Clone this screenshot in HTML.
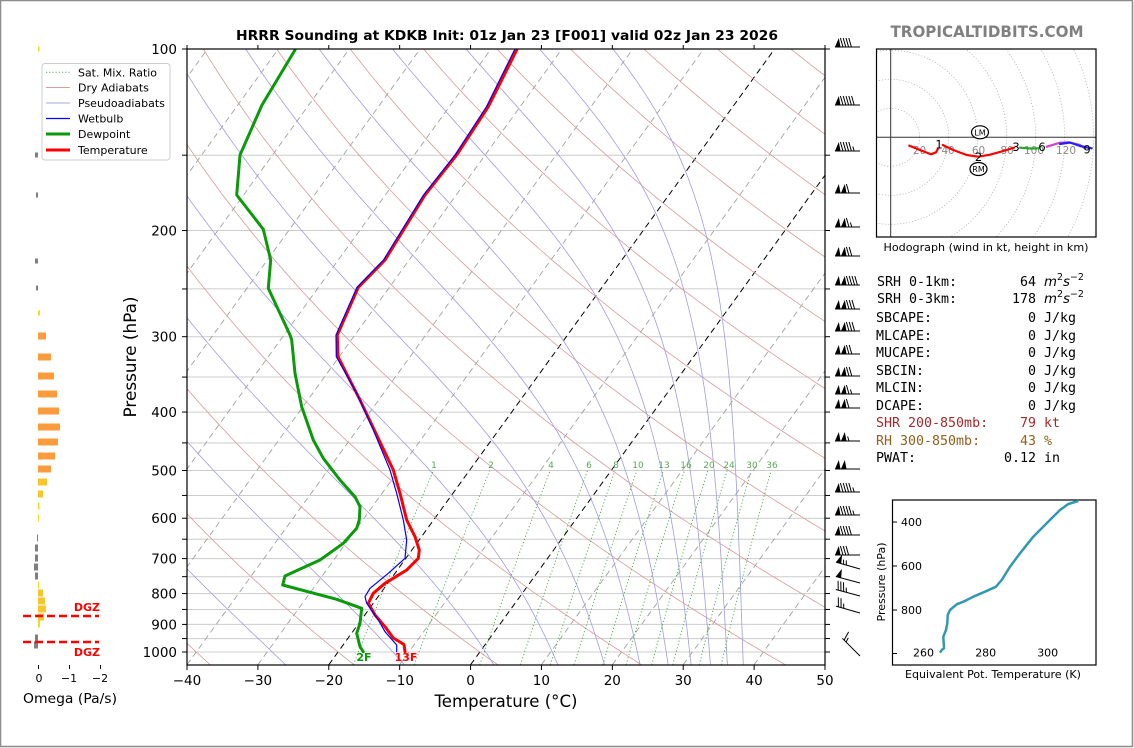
<!DOCTYPE html>
<html><head><meta charset="utf-8"><style>
html,body{margin:0;padding:0;background:#fff;}
svg{display:block;font-family:"DejaVu Sans","Liberation Sans",sans-serif;}
.mono{font-family:"DejaVu Sans Mono","Liberation Mono",monospace;font-size:13.3px;}
</style></head><body>
<svg id="s" xmlns="http://www.w3.org/2000/svg" width="1134" height="748" viewBox="0 0 1134 748">
<defs>
<clipPath id="cm"><rect x="187" y="49" width="638" height="616"/></clipPath>
<clipPath id="ch"><rect x="876" y="49" width="220" height="188"/></clipPath>
</defs>
<rect x="0" y="0" width="1134" height="748" fill="#fff"/>
<rect x="0.5" y="0.5" width="1132" height="746" fill="none" stroke="#8c8c8c" stroke-width="1.5"/>

<!-- title -->
<text x="507" y="40" font-size="13" font-weight="bold" text-anchor="middle" textLength="542" lengthAdjust="spacingAndGlyphs">HRRR Sounding at KDKB Init: 01z Jan 23 [F001] valid 02z Jan 23 2026</text>
<text x="987" y="37" font-size="16" font-weight="bold" fill="#808080" text-anchor="middle" textLength="193" lengthAdjust="spacingAndGlyphs">TROPICALTIDBITS.COM</text>

<!-- main plot background grid -->
<g id="hgrid" stroke="#cccccc" stroke-width="1">
<line x1="187" x2="825" y1="155.2" y2="155.2"/>
<line x1="187" x2="825" y1="230.5" y2="230.5"/>
<line x1="187" x2="825" y1="288.9" y2="288.9"/>
<line x1="187" x2="825" y1="336.7" y2="336.7"/>
<line x1="187" x2="825" y1="377.0" y2="377.0"/>
<line x1="187" x2="825" y1="412.1" y2="412.1"/>
<line x1="187" x2="825" y1="443.0" y2="443.0"/>
<line x1="187" x2="825" y1="470.5" y2="470.5"/>
<line x1="187" x2="825" y1="495.5" y2="495.5"/>
<line x1="187" x2="825" y1="518.2" y2="518.2"/>
<line x1="187" x2="825" y1="539.2" y2="539.2"/>
<line x1="187" x2="825" y1="558.6" y2="558.6"/>
<line x1="187" x2="825" y1="576.7" y2="576.7"/>
<line x1="187" x2="825" y1="593.6" y2="593.6"/>
<line x1="187" x2="825" y1="609.5" y2="609.5"/>
<line x1="187" x2="825" y1="624.4" y2="624.4"/>
<line x1="187" x2="825" y1="638.6" y2="638.6"/>
<line x1="187" x2="825" y1="652.0" y2="652.0"/>
</g>
<g id="bg" clip-path="url(#cm)"></g>

<!-- mixing ratio labels -->
<g font-size="9" fill="#55aa55" text-anchor="middle">
<text x="434" y="468">1</text><text x="491" y="468">2</text><text x="551" y="468">4</text>
<text x="589" y="468">6</text><text x="616" y="468">8</text><text x="638" y="468">10</text>
<text x="664" y="468">13</text><text x="686" y="468">16</text><text x="709" y="468">20</text>
<text x="729" y="468">24</text><text x="752" y="468">30</text><text x="772" y="468">36</text>
</g>

<!-- data curves -->
<g clip-path="url(#cm)" fill="none" stroke-linejoin="round" stroke-linecap="round">
<polyline stroke="#ff0000" stroke-width="3" points="516.7,50 488.3,106.7 456.7,155 425,195 385,260 358.3,287.3 337.3,335 338,356.7 360,400 376.7,435 393.3,470 400,493.3 406.7,520 415,536.7 419.3,550 418.3,558.3 406.7,570 385,583.3 373.3,593.3 368.3,603.3 375,615 385,626.7 393.3,638 404,644.5 405,651.7"/>
<polyline stroke="#0a9a0a" stroke-width="3" points="295,50 262,105 240,155 236.7,195 263.3,229.3 270.7,260 268.3,288.3 290,335 291.7,340 295,373.3 301.7,406.7 313.3,440 323.3,458.3 340,480 355,496.7 360,506.7 359.3,520 356.7,528.3 343.3,543.3 320,560 285,576 282.7,585 336.7,599.3 361.7,608.3 360,623.3 356.7,633.3 360,646.7 363.3,651.7"/>
<polyline stroke="#0000ff" stroke-width="1.2" points="514.5,50 486.5,106.7 455,155 423.5,195 383.5,260 357,287.3 336,335 336.3,356.7 356.7,393.3 373.3,430 390,470 396.7,493.3 403.3,520 406.7,540 405,558.3 388.3,573.3 370,588.3 365,596.7 366.7,603.3 378.3,620 385,631.7 396.7,645 396.7,651.7"/>
</g>
<text x="364" y="661" font-size="11" font-weight="bold" fill="#0a9a0a" text-anchor="middle">2F</text>
<text x="406" y="661" font-size="11" font-weight="bold" fill="#ff0000" text-anchor="middle">13F</text>

<!-- axes frame -->
<rect x="187" y="49" width="638" height="616" fill="none" stroke="#000" stroke-width="1.2"/>
<g id="ticks" stroke="#000" stroke-width="1"></g>

<!-- y tick labels -->
<g font-size="13.5" text-anchor="end">
<text x="177" y="54">100</text><text x="177" y="235.5">200</text><text x="177" y="341.7">300</text>
<text x="177" y="417.1">400</text><text x="177" y="475.5">500</text><text x="177" y="523.2">600</text>
<text x="177" y="563.6">700</text><text x="177" y="598.6">800</text><text x="177" y="629.4">900</text>
<text x="177" y="657">1000</text>
</g>
<g font-size="13.5" text-anchor="middle">
<text x="187" y="685">−40</text><text x="257.9" y="685">−30</text><text x="328.8" y="685">−20</text>
<text x="399.7" y="685">−10</text><text x="470.6" y="685">0</text><text x="541.4" y="685">10</text>
<text x="612.3" y="685">20</text><text x="683.2" y="685">30</text><text x="754.1" y="685">40</text>
<text x="825" y="685">50</text>
</g>
<text x="506" y="707" font-size="16.5" text-anchor="middle" textLength="143" lengthAdjust="spacingAndGlyphs">Temperature (°C)</text>
<text transform="translate(136,357) rotate(-90)" font-size="16.5" text-anchor="middle" textLength="121" lengthAdjust="spacingAndGlyphs">Pressure (hPa)</text>

<!-- legend -->
<rect x="42" y="63.5" width="128" height="96.5" rx="3" fill="#fff" fill-opacity="0.85" stroke="#cccccc" stroke-width="1"/>
<g stroke-width="1">
<line x1="46" x2="70" y1="72.3" y2="72.3" stroke="#55aa55" stroke-dasharray="1.2,2"/>
<line x1="46" x2="70" y1="87.5" y2="87.5" stroke="#d9a0a0"/>
<line x1="46" x2="70" y1="103" y2="103" stroke="#a8a8dd"/>
<line x1="46" x2="70" y1="118.5" y2="118.5" stroke="#0000ff" stroke-width="1.3"/>
<line x1="46" x2="70" y1="134" y2="134" stroke="#0a9a0a" stroke-width="3"/>
<line x1="46" x2="70" y1="150" y2="150" stroke="#ff0000" stroke-width="3"/>
</g>
<g font-size="11">
<text x="78" y="76.3" textLength="79" lengthAdjust="spacingAndGlyphs">Sat. Mix. Ratio</text>
<text x="78" y="91.5">Dry Adiabats</text>
<text x="78" y="107">Pseudoadiabats</text>
<text x="78" y="122.5">Wetbulb</text>
<text x="78" y="138">Dewpoint</text>
<text x="78" y="154">Temperature</text>
</g>

<!-- omega panel -->
<g id="omega"></g>
<g stroke="#ff0000" stroke-width="2.5" stroke-dasharray="8,4">
<line x1="23" x2="99" y1="616" y2="616"/>
<line x1="23" x2="99" y1="642" y2="642"/>
</g>
<text x="100" y="611" font-size="11" font-weight="bold" fill="#ff0000" text-anchor="end">DGZ</text>
<text x="100" y="656" font-size="11" font-weight="bold" fill="#ff0000" text-anchor="end">DGZ</text>
<g stroke="#000" stroke-width="1">
<line x1="38.5" x2="38.5" y1="665" y2="669"/><line x1="69.5" x2="69.5" y1="665" y2="669"/><line x1="100.5" x2="100.5" y1="665" y2="669"/>
</g>
<g font-size="11" text-anchor="middle">
<text x="39" y="682">0</text><text x="69" y="682">−1</text><text x="100" y="682">−2</text>
</g>
<text x="70" y="703" font-size="13.5" text-anchor="middle" textLength="94" lengthAdjust="spacingAndGlyphs">Omega (Pa/s)</text>

<!-- wind barbs -->
<g id="barbs" stroke="#000" stroke-width="1" fill="#000"></g>

<!-- hodograph -->
<g clip-path="url(#ch)" fill="none" stroke="#aaaaaa" stroke-width="0.8" stroke-dasharray="1,2">
<circle cx="890.7" cy="137.3" r="29"/><circle cx="890.7" cy="137.3" r="58"/>
<circle cx="890.7" cy="137.3" r="87"/><circle cx="890.7" cy="137.3" r="116"/>
<circle cx="890.7" cy="137.3" r="145"/><circle cx="890.7" cy="137.3" r="174"/>
<circle cx="890.7" cy="137.3" r="203"/><circle cx="890.7" cy="137.3" r="232"/>
</g>
<g stroke="#333" stroke-width="1">
<line x1="890.7" x2="890.7" y1="49" y2="237"/>
<line x1="876" x2="1096" y1="137.3" y2="137.3"/>
</g>
<g font-size="10.5" fill="#8a8a8a" text-anchor="middle">
<text x="919.5" y="154">20</text><text x="948" y="154">40</text><text x="978.5" y="154">60</text>
<text x="1007" y="154">80</text><text x="1034" y="154">100</text><text x="1066" y="154">120</text>
</g>
<g fill="none" stroke-width="2.2" stroke-linejoin="round" stroke-linecap="round">
<polyline stroke="#ff0000" points="909.3,145.7 920,150 931,154.3 936,152.3 937.7,149.3"/>
<polyline stroke="#ff0000" points="942.7,145 953.3,150 966.7,155 978.3,156.7 990,154.7 1003.3,151 1014,147.7"/>
<polyline stroke="#22aa22" points="1020,147.7 1030,148.5 1038.3,148.3"/>
<polyline stroke="#cc44cc" points="1046.7,146.7 1060,142.7 1068.3,142.3 1080,145 1085,148.3"/>
<polyline stroke="#2222ff" points="1060,144 1070,142.5 1080,146 1091.7,148.3"/>
</g>
<g font-size="11.5" text-anchor="middle">
<text x="939" y="148.5">1</text><text x="978.5" y="161">2</text><text x="1016" y="151">3</text>
<text x="1042" y="151">6</text><text x="1087" y="153.5">9</text>
</g>
<g fill="#fff" stroke="#000" stroke-width="1.2">
<ellipse cx="980" cy="132.3" rx="8.5" ry="6.5"/>
<ellipse cx="978.5" cy="169" rx="8.5" ry="6.5"/>
</g>
<g font-size="8" text-anchor="middle">
<text x="980" y="135.3">LM</text><text x="978.5" y="172">RM</text>
</g>
<rect x="876.5" y="49" width="219.5" height="188" fill="none" stroke="#000" stroke-width="1.2"/>
<text x="986" y="251" font-size="11" text-anchor="middle" textLength="205" lengthAdjust="spacingAndGlyphs">Hodograph (wind in kt, height in km)</text>

<!-- text block -->
<g class="mono">
<text x="877" y="286">SRH 0-1km:</text><text x="1036" y="286" text-anchor="end">64</text>
<text x="877" y="303">SRH 0-3km:</text><text x="1036" y="303" text-anchor="end">178</text>
<text x="876" y="322">SBCAPE:</text><text x="1036" y="322" text-anchor="end">0</text><text x="1044" y="322">J/kg</text>
<text x="876" y="340">MLCAPE:</text><text x="1036" y="340" text-anchor="end">0</text><text x="1044" y="340">J/kg</text>
<text x="876" y="357">MUCAPE:</text><text x="1036" y="357" text-anchor="end">0</text><text x="1044" y="357">J/kg</text>
<text x="876" y="375">SBCIN:</text><text x="1036" y="375" text-anchor="end">0</text><text x="1044" y="375">J/kg</text>
<text x="876" y="392">MLCIN:</text><text x="1036" y="392" text-anchor="end">0</text><text x="1044" y="392">J/kg</text>
<text x="876" y="410">DCAPE:</text><text x="1036" y="410" text-anchor="end">0</text><text x="1044" y="410">J/kg</text>
<text x="876" y="427" fill="#a52a2a">SHR 200-850mb:</text><text x="1036" y="427" text-anchor="end" fill="#a52a2a">79</text><text x="1044" y="427" fill="#a52a2a">kt</text>
<text x="876" y="445" fill="#94601e">RH 300-850mb:</text><text x="1036" y="445" text-anchor="end" fill="#94601e">43</text><text x="1044" y="445" fill="#94601e">%</text>
<text x="876" y="462">PWAT:</text><text x="1036" y="462" text-anchor="end">0.12</text><text x="1044" y="462">in</text>
</g>
<g font-size="13.3">
<text x="1044" y="286"><tspan font-style="italic">m</tspan><tspan dy="-6" font-size="9.5">2</tspan><tspan dy="6" font-style="italic">s</tspan><tspan dy="-6" font-size="9.5">−2</tspan></text>
<text x="1044" y="303"><tspan font-style="italic">m</tspan><tspan dy="-6" font-size="9.5">2</tspan><tspan dy="6" font-style="italic">s</tspan><tspan dy="-6" font-size="9.5">−2</tspan></text>
</g>

<!-- theta-e inset -->
<rect x="892.5" y="500" width="203.5" height="165" fill="none" stroke="#000" stroke-width="1.2"/>
<g stroke="#000" stroke-width="1">
<line x1="892.5" x2="897" y1="522" y2="522"/><line x1="892.5" x2="897" y1="566" y2="566"/>
<line x1="892.5" x2="897" y1="610" y2="610"/><line x1="892.5" x2="897" y1="653.5" y2="653.5"/>
</g>
<g font-size="11" text-anchor="end">
<text x="922" y="526">400</text><text x="922" y="570">600</text><text x="922" y="614">800</text>
</g>
<g font-size="11" text-anchor="middle">
<text x="923.5" y="656.5">260</text><text x="985.7" y="656.5">280</text><text x="1047.7" y="656.5">300</text>
</g>
<polyline fill="none" stroke="#3399b0" stroke-width="2.5" stroke-linejoin="round" points="940,652.7 941.7,650 944,648.3 943.3,636.7 946,630 947.3,623.3 947.7,615 950,610 956.7,604.3 963.3,601.7 973.3,596.7 985,591.7 996,586.7 1001.7,580 1010,566.7 1020,553.3 1033.3,536.7 1046.7,523.3 1060,510 1068.3,504 1078.3,501"/>
<text transform="translate(885,582) rotate(-90)" font-size="11" text-anchor="middle" textLength="79" lengthAdjust="spacingAndGlyphs">Pressure (hPa)</text>
<text x="993" y="678" font-size="11" text-anchor="middle" textLength="176" lengthAdjust="spacingAndGlyphs">Equivalent Pot. Temperature (K)</text>
</svg>
<script>
(function(){
var NS='http://www.w3.org/2000/svg';
function el(parent,tag,attrs){var e=document.createElementNS(NS,tag);for(var k in attrs)e.setAttribute(k,attrs[k]);parent.appendChild(e);return e;}
function Y(p){return 49+603*Math.log10(p/100);}
var YB=Y(1050);
var SK=0.724;
function X(T,p){return 187+(T+40)*638/90+SK*(YB-Y(p));}
var bg=document.getElementById('bg');
var ps=[];for(var p=1050;p>=95;p-=5)ps.push(p);
function poly(pts,attrs){var s=pts.map(function(q){return q[0].toFixed(1)+','+q[1].toFixed(1);}).join(' ');attrs.points=s;attrs.fill='none';el(bg,'polyline',attrs);}
// isotherms
for(var T=-150;T<=50;T+=10){
  var c=(T===0||T===-20)?'#000':'#a0a0a0';
  el(bg,'line',{x1:X(T,1050),y1:Y(1050),x2:X(T,100),y2:Y(100),stroke:c,'stroke-width':T===0||T===-20?1:0.9,'stroke-dasharray':'6,4'});
}
// dry adiabats
for(var th=-60;th<=320;th+=20){
  var pts=ps.map(function(p){var t=(th+273.15)*Math.pow(p/1000,0.2857)-273.15;return [X(t,p),Y(p)];});
  poly(pts,{stroke:'#d89a9a','stroke-width':0.8});
}
// pseudoadiabats: integrate moist lapse rate from 100 hPa downward
function dTdp(p,T){
  var Tc=T-273.15;var e=6.112*Math.exp(17.67*Tc/(Tc+243.5));
  if(e>p*0.9)e=p*0.9;
  var eps=0.6219569,Rd=287.04749,Lv=2.50084e6,Cp=1004.6662;
  var rs=eps*e/(p-e);
  return (1/p)*(Rd*T+Lv*rs)/(Cp+(Lv*Lv*rs*eps)/(Rd*T*T));
}
for(var k=0;k<=13;k++){
  var T=230.35-10.36*k;var p=100;var dp=2.5;var pts=[[X(T-273.15,p),Y(p)]];
  while(p<1050){
    var k1=dTdp(p,T),k2=dTdp(p+dp/2,T+dp/2*k1),k3=dTdp(p+dp/2,T+dp/2*k2),k4=dTdp(p+dp,T+dp*k3);
    T+=dp/6*(k1+2*k2+2*k3+k4);p+=dp;
    pts.push([X(T-273.15,p),Y(p)]);
  }
  poly(pts,{stroke:'#9e9edc','stroke-width':0.8});
}
// mixing ratio
[1,2,4,6,8,10,13,16,20,24,30,36].forEach(function(w){
  var pts=[];for(var p=1050;p>=500;p-=10){var r=w/1000;var e=r*p/(0.622+r);var L=Math.log(e/6.112);var Td=243.5*L/(17.67-L);pts.push([X(Td,p),Y(p)]);}
  poly(pts,{stroke:'#44aa44','stroke-width':0.9,'stroke-dasharray':'1.2,2.2'});
});
// ticks
var tk=document.getElementById('ticks');
var lv=[100,150,200,250,300,350,400,450,500,550,600,650,700,750,800,850,900,950,1000];
lv.forEach(function(p){var y=Y(p);el(tk,'line',{x1:182,x2:187,y1:y,y2:y});el(tk,'line',{x1:825,x2:830,y1:y,y2:y});});
for(var i=0;i<=9;i++){var x=187+i*638/9;el(tk,'line',{x1:x,x2:x,y1:665,y2:670});el(tk,'line',{x1:x,x2:x,y1:45,y2:49});}
// omega bars
var om=document.getElementById('omega');
var O='#fb9b3c',G='#f7c62a',Yl='#f0dc20',Gr='#808080';
var bars=[[49,39.5,Yl],[155,35,Gr],[195,36,Gr],[261,35,Gr],[288,36,Gr],[313,40,Yl],[336,46,O],[357,51,O],[376,54,O],[394,57,O],[411,59,O],[427,60,O],[442,58,O],[456,55,O],[469,51,O],[482,47,G],[494,43,G],[506,39.5,Yl],[518,39,Yl],[538,37,Gr],[548,35,Gr],[558,35,Gr],[567,34,Gr],[576,35,Gr],[585,39,Yl],[593,43,G],[601,45,G],[609,46,G],[617,44,G],[624,40,Yl],[638,35,Gr],[645,34,Gr]];
bars.forEach(function(b){var x0=38,x1=b[1];var a=Math.min(x0,x1),w=Math.abs(x1-x0);if(w<1)w=1;
  var h=b[0]<330?5:7;el(om,'rect',{x:a,y:b[0]-h/2,width:w,height:h,fill:b[2]});});
// barbs
var bb=document.getElementById('barbs');
var B=[[47,1,4,0,0],[105,1,5,0,0],[151,1,4,1,0],[193,2,1,0,0],[227,2,1,1,0],[256,2,2,0,0],[285,2,4,0,0],[309,2,3,0,0],[331,2,3,0,0],[354,2,2,0,0],[376,2,2,0,0],[394,2,1,1,0],[408,2,1,0,0],[441,2,0,1,0],[469,2,0,0,0],[492,1,4,1,0],[515,1,4,1,0],[535,1,4,0,0],[555,1,3,0,0],[569,1,0,2,16],[583,1,0,0,15],[596,0,3,1,15],[613,0,2,1,16],[656,0,1,1,45]];
B.forEach(function(b){var y=b[0];var g=el(bb,'g',{transform:'rotate('+b[4]+' 860 '+y+')'});
  el(g,'line',{x1:835,x2:860,y1:y,y2:y});
  var x=835;
  for(var i=0;i<b[1];i++){el(g,'polygon',{points:x+','+y+' '+(x+5.5)+','+y+' '+(x+3.8)+','+(y-9),stroke:'none'});x+=6;}
  if(b[1]>0)x+=2;else x+=2.5;
  for(var i=0;i<b[2];i++){el(g,'line',{x1:x,y1:y,x2:x-2.6,y2:y-9});x+=2.8;}
  for(var i=0;i<b[3];i++){el(g,'line',{x1:x,y1:y,x2:x-1.4,y2:y-4.5});x+=2.8;}
});
})();
</script>
</body></html>
